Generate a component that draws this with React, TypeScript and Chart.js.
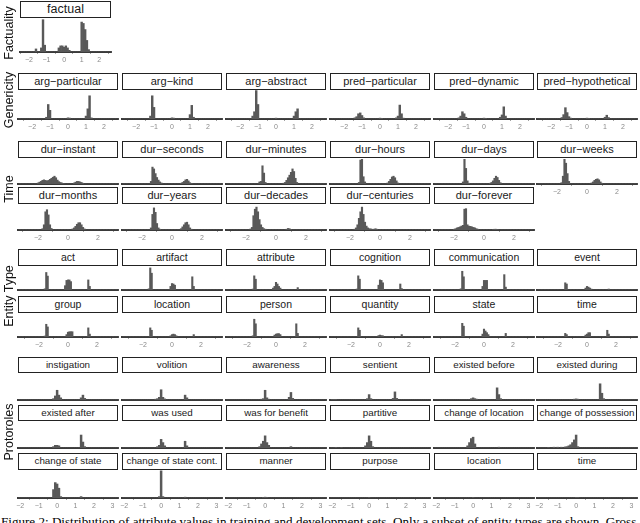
import React, { useEffect, useRef } from "react";
import { Chart, registerables } from "chart.js";
Chart.register(...registerables);

type Bin = [number, number];

// ---------- tick labels ----------
const ticksFactuality = [-2, -1, 0, 1, 2];
const ticksGenericity = [-2, -1, 0, 1, 2];
const ticksTime = [-2, 0, 2];
const ticksEntity = [-2, 0, 2];
const ticksProto = [-2, -1, 0, 1, 2, 3];

// ---------- Factuality ----------
const factual: Bin[] = [[-1.6, 9], [-1.3, 12], [-1.2, 95], [-1.1, 20], [-0.3, 12], [-0.2, 18], [-0.1, 18], [0, 14], [0.1, 18], [0.2, 12], [0.3, 5], [1.0, 88], [1.1, 84], [1.2, 66], [1.3, 34], [1.4, 7]];

// ---------- Genericity ----------
const argParticular: Bin[] = [[-1.2, 6], [-1.1, 50], [-1.0, 30], [0, 4], [0.1, 3], [1.0, 10], [1.1, 35], [1.2, 80], [1.3, 4]];
const argKind: Bin[] = [[-1.2, 10], [-1.1, 80], [-1.0, 40], [0, 4], [0.1, 3], [1.0, 15], [1.1, 47], [1.2, 6]];
const argAbstract: Bin[] = [[-1.3, 10], [-1.2, 25], [-1.1, 98], [-1.0, 50], [0, 3], [1.0, 10], [1.1, 25], [1.2, 35]];
const predParticular: Bin[] = [[-1.4, 4], [-1.3, 8], [-1.2, 18], [-1.1, 21], [-1.0, 12], [-0.9, 4], [0, 3], [0.1, 2], [0.9, 4], [1.0, 10], [1.1, 48], [1.2, 18], [1.3, 3]];
const predDynamic: Bin[] = [[-1.4, 4], [-1.3, 10], [-1.2, 25], [-1.1, 18], [-1.0, 6], [0, 3], [0.1, 2], [0.9, 6], [1.0, 14], [1.1, 42], [1.2, 10]];
const predHypothetical: Bin[] = [[-1.4, 5], [-1.3, 15], [-1.2, 39], [-1.1, 22], [-1.0, 8], [-0.9, 3], [0, 3], [0.1, 2], [1.0, 6], [1.1, 13], [1.2, 5]];

// ---------- Time ----------
const durInstant: Bin[] = [[-2.0, 4], [-1.9, 7], [-1.8, 10], [-1.7, 14], [-1.6, 16], [-1.5, 14], [-1.4, 12], [-1.3, 14], [-1.2, 18], [-1.1, 22], [-1.0, 26], [-0.9, 30], [-0.8, 24], [-0.7, 15], [-0.6, 9], [-0.5, 6], [-0.4, 4], [-0.3, 2], [0.4, 4], [0.5, 7], [0.6, 10], [0.7, 10], [0.8, 8], [0.9, 6], [1.0, 3]];
const durSeconds: Bin[] = [[-1.4, 10], [-1.3, 65], [-1.2, 58], [-1.1, 40], [-1.0, 25], [-0.9, 15], [-0.8, 8], [-0.7, 4], [0.6, 3], [0.7, 6], [0.8, 10], [0.9, 16], [1.0, 18], [1.1, 12], [1.2, 5], [1.3, 2]];
const durMinutes: Bin[] = [[-1.1, 8], [-1.0, 10], [-0.9, 70], [-0.8, 42], [-0.7, 6], [0.5, 3], [0.6, 6], [0.7, 14], [0.8, 24], [0.9, 34], [1.0, 45], [1.1, 58], [1.2, 48], [1.3, 22], [1.4, 6]];
const durHours: Bin[] = [[-1.4, 6], [-1.3, 92], [-1.2, 95], [-1.1, 28], [-1.0, 8], [0.5, 4], [0.6, 10], [0.7, 18], [0.8, 27], [0.9, 30], [1.0, 24], [1.1, 12], [1.2, 4]];
const durDays: Bin[] = [[-1.4, 8], [-1.3, 95], [-1.2, 60], [-1.1, 12], [-1.0, 3], [0.4, 3], [0.5, 6], [0.6, 12], [0.7, 22], [0.8, 30], [0.9, 25], [1.0, 14], [1.1, 5]];
const durWeeks: Bin[] = [[-1.7, 5], [-1.6, 30], [-1.5, 95], [-1.4, 80], [-1.3, 40], [-1.2, 10], [0.3, 4], [0.4, 8], [0.5, 14], [0.6, 18], [0.7, 20], [0.8, 16], [0.9, 8], [1.0, 3]];
const durMonths: Bin[] = [[-1.7, 5], [-1.6, 20], [-1.5, 70], [-1.4, 78], [-1.3, 58], [-1.2, 20], [-1.1, 6], [0.3, 4], [0.4, 8], [0.5, 14], [0.6, 22], [0.7, 28], [0.8, 28], [0.9, 20], [1.0, 10], [1.1, 4]];
const durYears: Bin[] = [[-1.4, 8], [-1.3, 60], [-1.2, 85], [-1.1, 68], [-1.0, 25], [-0.9, 8], [-0.8, 3], [0.6, 5], [0.7, 12], [0.8, 20], [0.9, 28], [1.0, 30], [1.1, 20], [1.2, 8], [1.3, 3]];
const durDecades: Bin[] = [[-1.7, 4], [-1.6, 10], [-1.5, 55], [-1.4, 80], [-1.3, 88], [-1.2, 70], [-1.1, 40], [-1.0, 20], [-0.9, 10], [-0.8, 5], [-0.7, 3], [0.7, 3], [0.8, 6], [0.9, 5], [1.0, 2]];
const durCenturies: Bin[] = [[-1.7, 3], [-1.6, 8], [-1.5, 20], [-1.4, 45], [-1.3, 70], [-1.2, 88], [-1.1, 60], [-1.0, 30], [-0.9, 15], [-0.8, 8], [-0.7, 5], [-0.6, 4], [-0.5, 3], [-0.4, 3], [-0.3, 5], [-0.2, 3]];
const durForever: Bin[] = [[-2.0, 3], [-1.9, 5], [-1.8, 8], [-1.7, 10], [-1.6, 12], [-1.5, 15], [-1.4, 18], [-1.3, 80], [-1.2, 82], [-1.1, 20], [-1.0, 15], [-0.9, 14], [-0.8, 12], [-0.7, 10], [-0.6, 8], [-0.5, 5], [-0.4, 3], [0.6, 2], [0.7, 3], [0.8, 3], [0.9, 2]];

// ---------- Entity Type ----------
const entAct: Bin[] = [[-1.6, 5], [-1.5, 73], [-1.4, 58], [-0.2, 18], [-0.1, 40], [0, 42], [0.1, 42], [0.2, 35], [1.4, 42], [1.5, 15]];
const entArtifact: Bin[] = [[-1.6, 5], [-1.5, 92], [-1.4, 70], [-0.1, 15], [0, 27], [0.1, 25], [0.2, 20], [1.4, 55], [1.5, 15]];
const entAttribute: Bin[] = [[-1.6, 4], [-1.5, 59], [-1.4, 45], [-0.2, 8], [-0.1, 15], [0, 32], [0.1, 25], [0.2, 15], [0.3, 8], [1.5, 10]];
const entCognition: Bin[] = [[-1.6, 4], [-1.5, 59], [-1.4, 45], [-0.1, 20], [0, 42], [0.1, 40], [0.2, 30], [1.4, 25], [1.5, 6]];
const entCommunication: Bin[] = [[-1.6, 5], [-1.5, 78], [-1.4, 55], [-0.1, 15], [0, 40], [0.1, 40], [0.2, 40], [1.4, 64], [1.5, 12]];
const entEvent: Bin[] = [[-1.5, 30], [-1.4, 25], [-0.1, 8], [0, 15], [0.1, 12], [0.2, 8], [0.3, 4], [1.5, 4]];
const entGroup: Bin[] = [[-1.6, 4], [-1.5, 53], [-1.4, 42], [-0.1, 10], [0, 20], [0.1, 22], [0.2, 22], [0.3, 22], [1.4, 38], [1.5, 12]];
const entLocation: Bin[] = [[-1.5, 38], [-1.4, 28], [-0.1, 5], [0, 10], [0.1, 12], [0.2, 10], [0.3, 5], [1.5, 10]];
const entPerson: Bin[] = [[-1.6, 5], [-1.5, 74], [-1.4, 55], [-0.1, 8], [0, 12], [0.1, 14], [0.2, 14], [0.3, 10], [1.4, 55], [1.5, 15]];
const entQuantity: Bin[] = [[-1.5, 38], [-1.4, 28], [-0.1, 6], [0, 8], [0.1, 6], [0.2, 5], [1.5, 10]];
const entState: Bin[] = [[-1.5, 57], [-1.4, 45], [-0.1, 12], [0, 33], [0.1, 25], [0.2, 18], [0.3, 10], [1.5, 15]];
const entTime: Bin[] = [[-1.5, 15], [-1.4, 10], [-0.1, 8], [0, 12], [0.1, 18], [0.2, 18], [1.4, 28], [1.5, 12]];

// ---------- Protoroles ----------
const prInstigation: Bin[] = [[-0.2, 5], [-0.1, 15], [0, 36], [0.1, 18], [0.2, 8], [1.3, 8], [1.4, 18], [1.5, 6]];
const prVolition: Bin[] = [[-0.3, 3], [-0.2, 5], [-0.1, 10], [0, 38], [0.1, 10], [0.2, 4], [1.3, 18], [1.4, 8]];
const prAwareness: Bin[] = [[-0.2, 3], [-0.1, 5], [0, 36], [0.1, 8], [0.2, 3], [1.3, 10], [1.4, 28], [1.5, 6]];
const prSentient: Bin[] = [[-2.0, 2], [-1.9, 2], [-1.8, 2], [-0.1, 5], [0, 20], [0.1, 5], [1.3, 6], [1.4, 30], [1.5, 6]];
const prExistedBefore: Bin[] = [[-0.1, 5], [0, 8], [0.1, 5], [0.2, 3], [1.3, 45], [1.4, 20], [1.5, 5]];
const prExistedDuring: Bin[] = [[-0.1, 3], [0, 4], [0.1, 3], [1.3, 60], [1.4, 25], [1.5, 5]];
const prExistedAfter: Bin[] = [[-0.2, 5], [-0.1, 10], [0, 10], [0.1, 8], [1.3, 48], [1.4, 22], [1.5, 5]];
const prWasUsed: Bin[] = [[-0.2, 5], [-0.1, 10], [0, 32], [0.1, 20], [0.2, 8], [1.3, 25], [1.4, 8]];
const prWasForBenefit: Bin[] = [[-0.3, 5], [-0.2, 15], [-0.1, 25], [0, 45], [0.1, 20], [0.2, 10], [1.4, 5]];
const prPartitive: Bin[] = [[-1.8, 2], [-1.5, 2], [-0.2, 8], [-0.1, 20], [0, 45], [0.1, 25], [0.2, 5]];
const prChangeOfLocation: Bin[] = [[-0.3, 8], [-0.2, 20], [-0.1, 35], [0, 40], [0.1, 15], [1.4, 3]];
const prChangeOfPossession: Bin[] = [[-1.5, 2], [-1.2, 3], [-1.0, 3], [-0.8, 3], [-0.6, 4], [-0.5, 5], [-0.4, 8], [-0.3, 12], [-0.2, 20], [-0.1, 30], [0, 48], [0.1, 5]];
const prChangeOfState: Bin[] = [[-0.2, 30], [-0.1, 55], [0, 50], [0.1, 35], [0.2, 5], [1.3, 5]];
const prChangeOfStateCont: Bin[] = [[-0.1, 5], [0, 97], [0.1, 5], [1.3, 3]];
const prManner: Bin[] = [[-0.1, 2], [0, 3], [0.1, 2]];
const prPurpose: Bin[] = [[0, 2]];
const prLocation: Bin[] = [[0, 2]];
const prTime: Bin[] = [[0, 2], [0.1, 2]];

// ---------- layout helpers ----------
const COLS = [18, 122, 226, 330, 434, 537];
const PW = 100;

type Panel = {
  title: string; bins: Bin[]; left: number; width: number;
  stripTop: number; stripH: number; plotTop: number; plotH: number;
  xMin: number; xMax: number; ticks: number[]; showTicks: boolean; fontSize: number;
};

const panels: Panel[] = [];
function add(title: string, bins: Bin[], col: number, stripTop: number, stripH: number, plotH: number,
  xMin: number, xMax: number, ticks: number[], showTicks: boolean, fontSize: number) {
  panels.push({ title, bins, left: COLS[col], width: PW, stripTop, stripH, plotTop: stripTop + stripH, plotH, xMin, xMax, ticks, showTicks, fontSize });
}

// Factuality
panels.push({ title: "factual", bins: factual, left: 20, width: 91, stripTop: 1, stripH: 17, plotTop: 18, plotH: 34, xMin: -2.51, xMax: 2.67, ticks: ticksFactuality, showTicks: true, fontSize: 12.5 });
// Genericity
const gen: [string, Bin[]][] = [["arg−particular", argParticular], ["arg−kind", argKind], ["arg−abstract", argAbstract], ["pred−particular", predParticular], ["pred−dynamic", predDynamic], ["pred−hypothetical", predHypothetical]];
gen.forEach(([t, b], i) => add(t, b, i, 73, 17, 29, -2.78, 2.78, ticksGenericity, true, 11));
// Time
const time1: [string, Bin[]][] = [["dur−instant", durInstant], ["dur−seconds", durSeconds], ["dur−minutes", durMinutes], ["dur−hours", durHours], ["dur−days", durDays], ["dur−weeks", durWeeks]];
const time2: [string, Bin[]][] = [["dur−months", durMonths], ["dur−years", durYears], ["dur−decades", durDecades], ["dur−centuries", durCenturies], ["dur−forever", durForever]];
time1.forEach(([t, b], i) => add(t, b, i, 141, 17, 26, -3.33, 3.33, ticksTime, i === 5, 11));
time2.forEach(([t, b], i) => add(t, b, i, 187, 17, 26, -3.33, 3.33, ticksTime, true, 11));
// Entity
const ent1: [string, Bin[]][] = [["act", entAct], ["artifact", entArtifact], ["attribute", entAttribute], ["cognition", entCognition], ["communication", entCommunication], ["event", entEvent]];
const ent2: [string, Bin[]][] = [["group", entGroup], ["location", entLocation], ["person", entPerson], ["quantity", entQuantity], ["state", entState], ["time", entTime]];
ent1.forEach(([t, b], i) => add(t, b, i, 249, 17, 24, -3.45, 3.45, ticksEntity, false, 10.5));
ent2.forEach(([t, b], i) => add(t, b, i, 296, 17, 24, -3.45, 3.45, ticksEntity, true, 10.5));
// Protoroles
const pr1: [string, Bin[]][] = [["instigation", prInstigation], ["volition", prVolition], ["awareness", prAwareness], ["sentient", prSentient], ["existed before", prExistedBefore], ["existed during", prExistedDuring]];
const pr2: [string, Bin[]][] = [["existed after", prExistedAfter], ["was used", prWasUsed], ["was for benefit", prWasForBenefit], ["partitive", prPartitive], ["change of location", prChangeOfLocation], ["change of possession", prChangeOfPossession]];
const pr3: [string, Bin[]][] = [["change of state", prChangeOfState], ["change of state cont.", prChangeOfStateCont], ["manner", prManner], ["purpose", prPurpose], ["location", prLocation], ["time", prTime]];
pr1.forEach(([t, b], i) => add(t, b, i, 357, 16, 27, -2.12, 3.3, ticksProto, false, 9.8));
pr2.forEach(([t, b], i) => add(t, b, i, 405, 16, 27, -2.12, 3.3, ticksProto, false, 9.8));
pr3.forEach(([t, b], i) => add(t, b, i, 453, 17, 28, -2.12, 3.3, ticksProto, true, 9.8));

const rowLabels: [string, number][] = [["Factuality", 33], ["Genericity", 100], ["Time", 189], ["Entity Type", 296], ["Protoroles", 432]];

const SANS = "'Liberation Sans', Arial, Helvetica, sans-serif";
const PADX = 8;

function fmt(v: number) {
  return v < 0 ? "\u2212" + Math.abs(v) : String(v);
}

function Histogram({ p }: { p: Panel }) {
  const ref = useRef<HTMLCanvasElement | null>(null);
  const axisH = p.showTicks ? 14 : 1;
  const cw = p.width + PADX * 2;
  const ch = p.plotH + axisH;
  useEffect(() => {
    const lo = Math.ceil(p.xMin * 10);
    const hi = Math.floor(p.xMax * 10);
    const m = new Map<number, number>();
    p.bins.forEach(([x, h]) => m.set(Math.round(x * 10), h));
    const data: { x: number; y: number }[] = [];
    for (let i = lo; i <= hi; i++) data.push({ x: i / 10, y: m.get(i) ?? 0 });
    const chart = new Chart(ref.current as HTMLCanvasElement, {
      type: "bar",
      data: {
        datasets: [{
          data: data as any,
          backgroundColor: "#595959",
          borderWidth: 0,
          barPercentage: 1,
          categoryPercentage: 1,
        }],
      },
      options: {
        animation: false,
        responsive: false,
        maintainAspectRatio: false,
        events: [],
        layout: { padding: { left: PADX, right: PADX, top: 0, bottom: 0 } },
        plugins: { legend: { display: false }, tooltip: { enabled: false } },
        scales: {
          x: {
            type: "linear",
            min: p.xMin,
            max: p.xMax,
            offset: false,
            afterBuildTicks: (s: any) => { s.ticks = p.ticks.map((v) => ({ value: v })); },
            afterFit: (s: any) => { s.height = axisH; s.paddingLeft = 0; s.paddingRight = 0; },
            grid: { display: p.showTicks, drawOnChartArea: false, drawTicks: true, tickLength: 2, color: "#8a8a8a", lineWidth: 0.8 },
            border: { display: true, color: "#3a3a3a", width: 2 },
            ticks: {
              display: p.showTicks,
              autoSkip: false,
              maxRotation: 0,
              padding: 2,
              color: "#8a8a8a",
              font: { size: 7, family: SANS },
              callback: (v: any) => fmt(Number(v)),
            },
          } as any,
          y: { display: false, min: 0, max: 100 },
        },
      },
    });
    return () => chart.destroy();
  }, []);
  return (
    <canvas
      ref={ref}
      width={cw}
      height={ch}
      style={{ position: "absolute", left: p.left - PADX, top: p.plotTop, width: cw, height: ch }}
    />
  );
}

export default function App() {
  return (
    <div style={{ position: "absolute", left: 0, top: 0, width: 640, height: 523, overflow: "hidden", background: "#fff", fontFamily: SANS }}>
      {panels.map((p, i) => (
        <div key={"s" + i} style={{
          position: "absolute", left: p.left, top: p.stripTop, width: p.width, height: p.stripH,
          boxSizing: "border-box", border: "1.2px solid #222", background: "#fff",
          fontSize: p.fontSize, lineHeight: (p.stripH - 2.4) + "px", textAlign: "center", color: "#1a1a1a",
          whiteSpace: "nowrap", overflow: "hidden",
        }}>{p.title}</div>
      ))}
      {panels.map((p, i) => <Histogram key={"h" + i} p={p} />)}
      {rowLabels.map(([t, cy]) => (
        <div key={t} style={{
          position: "absolute", left: 9, top: cy, transform: "translate(-50%, -50%) rotate(-90deg)",
          fontSize: 12.5, whiteSpace: "nowrap", color: "#111",
        }}>{t}</div>
      ))}
      <div style={{
        position: "absolute", left: 1, top: 514, fontFamily: "'Liberation Serif', 'Times New Roman', serif",
        fontSize: 13.1, lineHeight: "16px", whiteSpace: "nowrap", color: "#000",
      }}>Figure 2: Distribution of attribute values in training and development sets. Only a subset of entity types are shown. Gross</div>
    </div>
  );
}
